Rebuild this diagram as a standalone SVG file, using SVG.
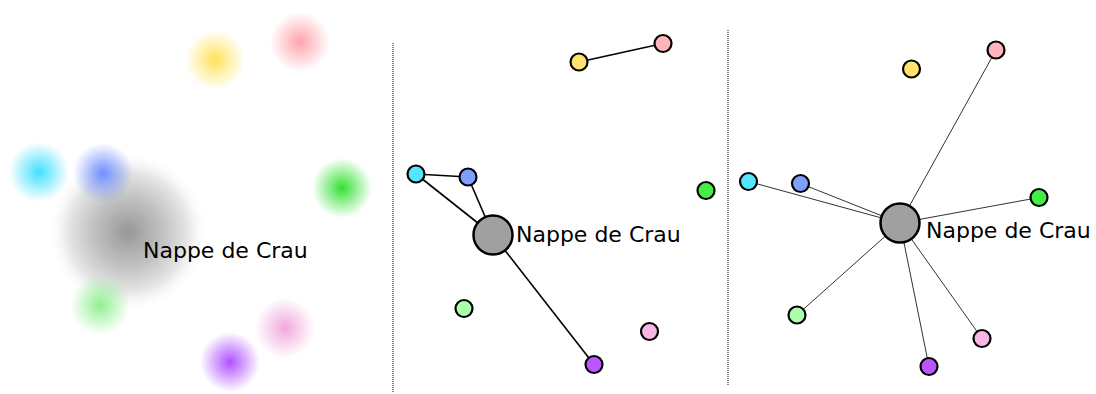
<svg xmlns="http://www.w3.org/2000/svg" width="1096" height="394" viewBox="0 0 1096 394">
<defs>
<style>
.lbl{font-family:"DejaVu Sans",sans-serif;font-size:22px;fill:#000}
.n{stroke:#000;stroke-width:2.2}
.big{fill:#a0a0a0;stroke:#000;stroke-width:2.5}
.e2{stroke:#000;stroke-width:1.6;fill:none}
.e3{stroke:#333;stroke-width:1;fill:none}
.sep{stroke:#333;stroke-width:1.2;stroke-dasharray:1,1}
</style>
<radialGradient id="gGray"><stop offset="0" stop-color="#979797"/><stop offset="0.45" stop-color="#c3c3c3"/><stop offset="0.75" stop-color="#e2e2e2" stop-opacity="0.9"/><stop offset="1" stop-color="#fff" stop-opacity="0"/></radialGradient>
<radialGradient id="gYellow"><stop offset="0" stop-color="#ffe35a"/><stop offset="1" stop-color="#ffe35a" stop-opacity="0"/></radialGradient>
<radialGradient id="gPink"><stop offset="0" stop-color="#ffa3ab"/><stop offset="1" stop-color="#ffa3ab" stop-opacity="0"/></radialGradient>
<radialGradient id="gCyan"><stop offset="0" stop-color="#40e0ff"/><stop offset="1" stop-color="#40e0ff" stop-opacity="0"/></radialGradient>
<radialGradient id="gBlue"><stop offset="0" stop-color="#6f8fff"/><stop offset="1" stop-color="#6f8fff" stop-opacity="0"/></radialGradient>
<radialGradient id="gGreen"><stop offset="0" stop-color="#33e033"/><stop offset="1" stop-color="#33e033" stop-opacity="0"/></radialGradient>
<radialGradient id="gLGreen"><stop offset="0" stop-color="#90f090"/><stop offset="1" stop-color="#90f090" stop-opacity="0"/></radialGradient>
<radialGradient id="gLPink"><stop offset="0" stop-color="#f0a8dc"/><stop offset="1" stop-color="#f0a8dc" stop-opacity="0"/></radialGradient>
<radialGradient id="gPurple"><stop offset="0" stop-color="#b050ff"/><stop offset="1" stop-color="#b050ff" stop-opacity="0"/></radialGradient>
</defs>
<rect width="1096" height="394" fill="#fff"/>

<g id="separators">
<line class="sep" x1="393" y1="43" x2="393" y2="393"/>
<line class="sep" x1="728" y1="30" x2="728" y2="385"/>
</g>

<g id="panel1">
<g id="p1-gray"><circle cx="128" cy="232" r="80" fill="url(#gGray)"/></g>
<g id="p1-yellow"><circle cx="215" cy="60" r="30" fill="url(#gYellow)"/></g>
<g id="p1-pink"><circle cx="300" cy="42" r="30" fill="url(#gPink)"/></g>
<g id="p1-cyan"><circle cx="39" cy="172" r="30" fill="url(#gCyan)"/></g>
<g id="p1-blue"><circle cx="103" cy="173" r="30" fill="url(#gBlue)"/></g>
<g id="p1-green"><circle cx="342" cy="188" r="30" fill="url(#gGreen)"/></g>
<g id="p1-lgreen"><circle cx="100" cy="305" r="30" fill="url(#gLGreen)"/></g>
<g id="p1-lpink"><circle cx="285" cy="328" r="30" fill="url(#gLPink)"/></g>
<g id="p1-purple"><circle cx="230" cy="362" r="30" fill="url(#gPurple)"/></g>
<text class="lbl" x="143" y="258">Nappe de Crau</text>
</g>

<g id="connectors">
<line class="e2" x1="579" y1="62" x2="663" y2="43.5"/>
<line class="e2" x1="416" y1="174" x2="468" y2="177"/>
<line class="e2" x1="416" y1="174" x2="493" y2="235"/>
<line class="e2" x1="468" y1="177" x2="493" y2="235"/>
<line class="e2" x1="493" y1="235" x2="594" y2="364.5"/>
<line class="e3" x1="900" y1="223" x2="996" y2="50"/>
<line class="e3" x1="900" y1="223" x2="748.5" y2="181.5"/>
<line class="e3" x1="900" y1="223" x2="800.5" y2="183.5"/>
<line class="e3" x1="900" y1="223" x2="1039" y2="197.5"/>
<line class="e3" x1="900" y1="223" x2="797" y2="315"/>
<line class="e3" x1="900" y1="223" x2="982" y2="338.5"/>
<line class="e3" x1="900" y1="223" x2="929" y2="366.5"/>
</g>

<g id="panel2">
<g id="p2-yellow"><circle class="n" cx="579" cy="62" r="8.5" fill="#ffe36e"/></g>
<g id="p2-pink"><circle class="n" cx="663" cy="43.5" r="8.5" fill="#ffb3ba"/></g>
<g id="p2-cyan"><circle class="n" cx="416" cy="174" r="8.5" fill="#55e5ff"/></g>
<g id="p2-blue"><circle class="n" cx="468" cy="177" r="8.5" fill="#7f9fff"/></g>
<g id="p2-green"><circle class="n" cx="706" cy="190.5" r="8.5" fill="#44ee44"/></g>
<g id="p2-lgreen"><circle class="n" cx="464" cy="308.5" r="8.5" fill="#aaffaa"/></g>
<g id="p2-lpink"><circle class="n" cx="649.5" cy="331.5" r="8.5" fill="#f7b6e3"/></g>
<g id="p2-purple"><circle class="n" cx="594" cy="364.5" r="8.5" fill="#bb55ff"/></g>
<g id="p2-gray"><circle class="big" cx="493" cy="235" r="19.5"/></g>
<text class="lbl" x="516" y="242">Nappe de Crau</text>
</g>

<g id="panel3">
<g id="p3-yellow"><circle class="n" cx="911.5" cy="69" r="8.5" fill="#ffe36e"/></g>
<g id="p3-pink"><circle class="n" cx="996" cy="50" r="8.5" fill="#ffb3ba"/></g>
<g id="p3-cyan"><circle class="n" cx="748.5" cy="181.5" r="8.5" fill="#55e5ff"/></g>
<g id="p3-blue"><circle class="n" cx="800.5" cy="183.5" r="8.5" fill="#7f9fff"/></g>
<g id="p3-green"><circle class="n" cx="1039" cy="197.5" r="8.5" fill="#44ee44"/></g>
<g id="p3-lgreen"><circle class="n" cx="797" cy="315" r="8.5" fill="#aaffaa"/></g>
<g id="p3-lpink"><circle class="n" cx="982" cy="338.5" r="8.5" fill="#f7b6e3"/></g>
<g id="p3-purple"><circle class="n" cx="929" cy="366.5" r="8.5" fill="#bb55ff"/></g>
<g id="p3-gray"><circle class="big" cx="900" cy="223" r="19.5"/></g>
<text class="lbl" x="926" y="238">Nappe de Crau</text>
</g>
</svg>
